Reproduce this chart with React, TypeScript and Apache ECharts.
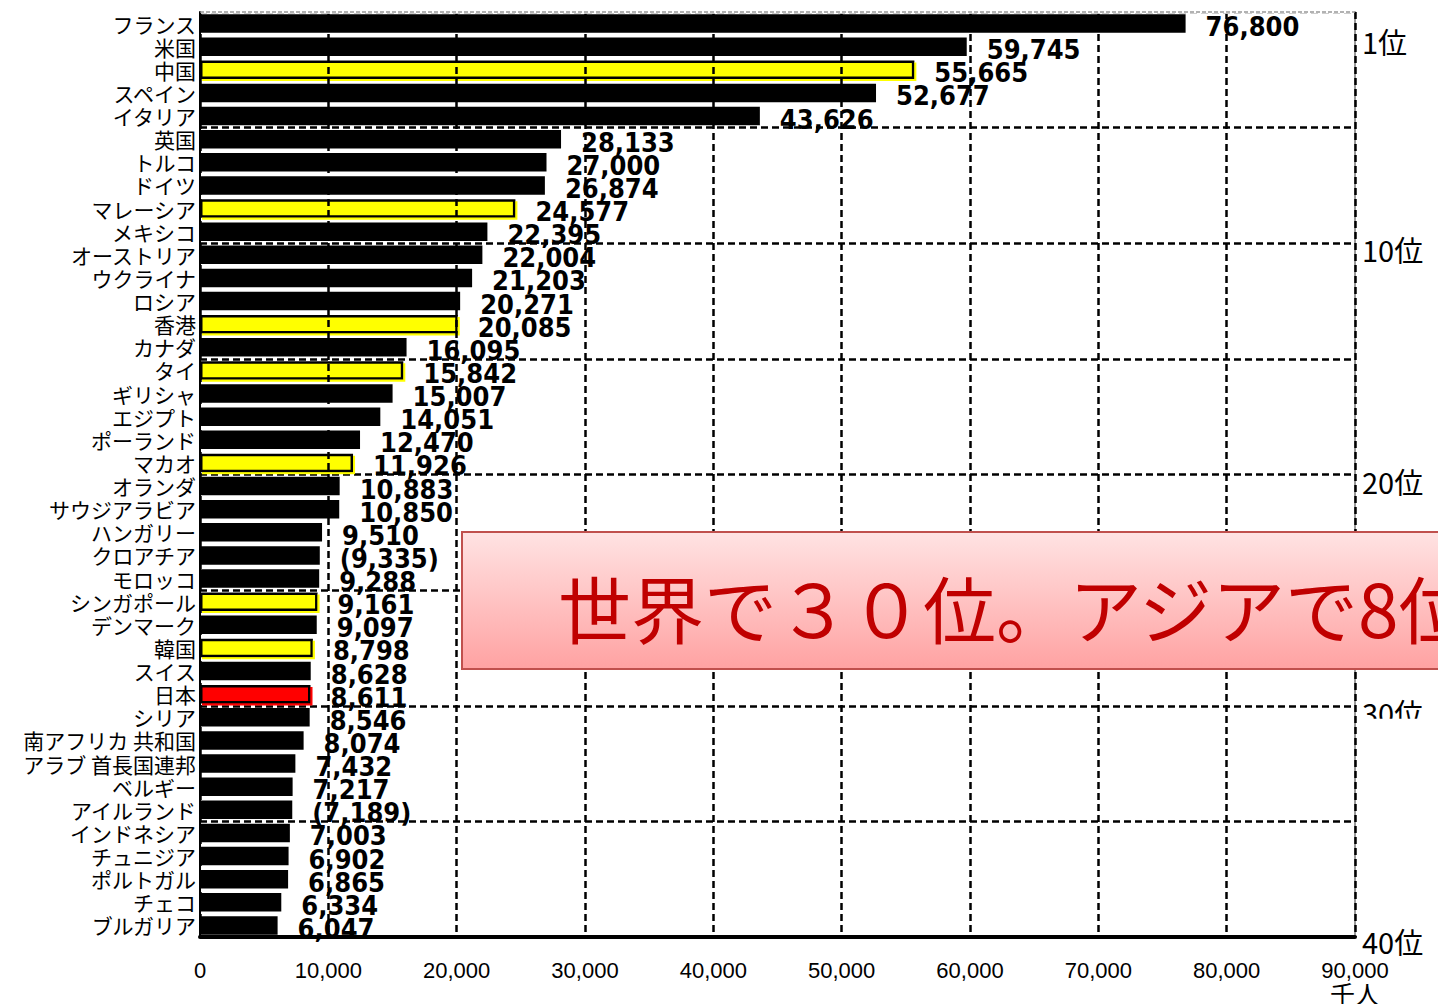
import React, { useEffect, useRef } from "react";
import * as echarts from "echarts";

const categories = [
  "フランス", "米国", "中国", "スペイン", "イタリア", "英国", "トルコ", "ドイツ", "マレーシア", "メキシコ",
  "オーストリア", "ウクライナ", "ロシア", "香港", "カナダ", "タイ", "ギリシャ", "エジプト", "ポーランド", "マカオ",
  "オランダ", "サウジアラビア", "ハンガリー", "クロアチア", "モロッコ", "シンガポール", "デンマーク", "韓国", "スイス", "日本",
  "シリア", "南アフリカ 共和国", "アラブ 首長国連邦", "ベルギー", "アイルランド", "インドネシア", "チュニジア", "ポルトガル", "チェコ", "ブルガリア",
];
const values = [
  76800, 59745, 55665, 52677, 43626, 28133, 27000, 26874, 24577, 22395,
  22004, 21203, 20271, 20085, 16095, 15842, 15007, 14051, 12470, 11926,
  10883, 10850, 9510, 9335, 9288, 9161, 9097, 8798, 8628, 8611,
  8546, 8074, 7432, 7217, 7189, 7003, 6902, 6865, 6334, 6047,
];
const asiaNames = ["中国", "マレーシア", "香港", "タイ", "マカオ", "シンガポール", "韓国"];
const japanName = "日本";
const estimatedNames = ["クロアチア", "アイルランド"];
const xTicks = { min: 0, max: 90000, interval: 10000 };
const rankMarks = [1, 10, 20, 30, 40];
const unitLabel = "千人";
const calloutText = "世界で３０位。アジアで8位";

export default function App() {
  const ref = useRef<HTMLDivElement>(null);
  useEffect(() => {
    if (!ref.current) return;
    const chart = echarts.init(ref.current, undefined, { renderer: "svg" });
    const data = values.map((v, i) => {
      const name = categories[i];
      let itemStyle: any = { color: "#000000" };
      if (asiaNames.includes(name)) {
        itemStyle = {
          color: "#ffff00", borderColor: "#000000", borderWidth: 2.5,
          shadowColor: "#ffff00", shadowOffsetX: 2, shadowOffsetY: 2, shadowBlur: 0.1,
        };
      } else if (name === japanName) {
        itemStyle = {
          color: "#ff0000", borderColor: "#000000", borderWidth: 2.5,
          shadowColor: "#ff0000", shadowOffsetX: 2, shadowOffsetY: 2, shadowBlur: 0.1,
        };
      }
      return { value: v, itemStyle };
    });
    const dashed = { color: "#000", width: 2.5, type: [7, 4] };
    const option: any = {
      animation: false,
      backgroundColor: "#ffffff",
      grid: { left: 200, right: 83, top: 12, bottom: 67, containLabel: false },
      xAxis: [
        {
          type: "value",
          min: xTicks.min, max: xTicks.max, interval: xTicks.interval,
          axisLine: { show: true, onZero: false, lineStyle: { color: "#000", width: 4 } },
          axisTick: { show: false },
          axisLabel: {
            color: "#000", fontSize: 22, fontFamily: "'Liberation Sans', Arial, sans-serif", margin: 22,
            formatter: (v: number) => v.toLocaleString("en-US"),
          },
          splitLine: { show: true, lineStyle: dashed },
          z: 5,
        },
      ],
      yAxis: [
        {
          type: "category",
          data: categories,
          inverse: true,
          axisLine: { show: true, onZero: false, lineStyle: { color: "#000", width: 2 } },
          axisTick: { show: false },
          axisLabel: {
            color: "#000", fontSize: 21, fontFamily: "'Noto Sans CJK JP', sans-serif", margin: 4,
            interval: 0,
          },
          splitLine: { show: false },
        },
        {
          type: "value",
          min: 0, max: 40, interval: 5,
          inverse: true,
          position: "right",
          axisLine: { show: true, onZero: false, lineStyle: { color: "#999", width: 2 } },
          axisTick: { show: false },
          axisLabel: { show: false },
          splitLine: { show: true, lineStyle: dashed },
        },
      ],
      series: [
        {
          type: "bar",
          xAxisIndex: 0,
          yAxisIndex: 0,
          data,
          barWidth: "80%",
          z: 3,
          label: {
            show: true,
            position: "right",
            distance: 20,
            offset: [0, 3],
            color: "#000",
            fontSize: 27,
            fontWeight: "bold",
            fontFamily: "'DejaVu Sans Condensed', 'DejaVu Sans', sans-serif",
            formatter: (p: any) => {
              const s = Number(p.value).toLocaleString("en-US");
              return estimatedNames.includes(p.name) ? `(${s})` : s;
            },
          },
        },
      ],
    };
    chart.setOption(option);

    const x0 = chart.convertToPixel({ xAxisIndex: 0 }, xTicks.min) as number;
    const x1 = chart.convertToPixel({ xAxisIndex: 0 }, xTicks.max) as number;
    const yTop = chart.convertToPixel({ yAxisIndex: 1 }, 0) as number;
    const yBottom = chart.convertToPixel({ yAxisIndex: 1 }, 40) as number;

    const graphic: any[] = [
      { type: "line", z: 50, shape: { x1: x0 + 1, y1: yTop, x2: x1 - 1, y2: yTop }, style: { stroke: "#ffffff", lineWidth: 3.5 } },
      { type: "line", z: 51, shape: { x1: x0, y1: yTop, x2: x1, y2: yTop }, style: { stroke: "#999999", lineWidth: 1.5, lineDash: [4, 2] } },
    ];
    rankMarks.forEach((n) => {
      const y = chart.convertToPixel({ yAxisIndex: 1 }, n) as number;
      graphic.push({
        type: "text", z: 60, x: x1 + 7, y: y + (n === 40 ? 4 : 6),
        style: {
          text: `${n}位`, fill: "#000", fontSize: 29,
          fontFamily: "'Noto Sans CJK JP', sans-serif", verticalAlign: "middle", align: "left",
        },
      });
    });
    const y30 = chart.convertToPixel({ yAxisIndex: 1 }, 30) as number;
    graphic.push({ type: "rect", z: 61, shape: { x: x1 + 3, y: y30 + 13, width: 90, height: 40 }, style: { fill: "#ffffff" } });
    graphic.push({
      type: "text", z: 60, x: x1, y: yBottom + 56,
      style: { text: unitLabel, fill: "#000", fontSize: 25, fontFamily: "'Noto Sans CJK JP', sans-serif", align: "center", verticalAlign: "middle" },
    });
    graphic.push({
      type: "rect", z: 100,
      shape: { x: 462, y: 532, width: 1100, height: 137 },
      style: {
        fill: new echarts.graphic.LinearGradient(0, 0, 0, 1, [
          { offset: 0, color: "#ffe3e3" },
          { offset: 1, color: "#ffa2a2" },
        ]),
        stroke: "#c0504d", lineWidth: 2,
      },
    });
    graphic.push({
      type: "text", z: 101, x: 558, y: 606,
      style: {
        text: calloutText, fill: "#c00000", fontSize: 73,
        fontFamily: "'Noto Sans CJK JP', sans-serif", fontWeight: 400, verticalAlign: "middle", align: "left",
      },
    });
    chart.setOption({ graphic });

    return () => chart.dispose();
  }, []);
  return (
    <div
      ref={ref}
      style={{ position: "fixed", left: 0, top: 0, width: 1438, height: 1004, background: "#fff" }}
    />
  );
}
